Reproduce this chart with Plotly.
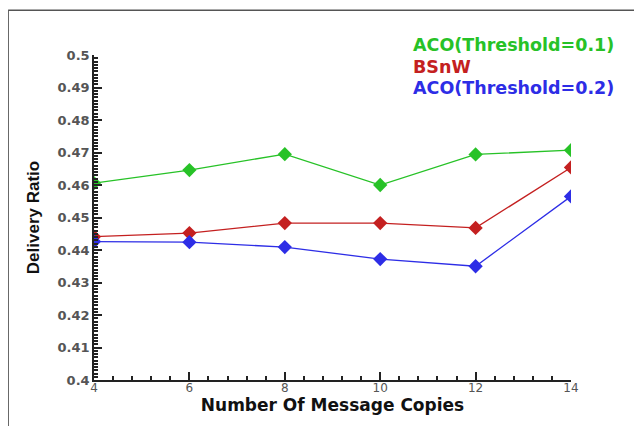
import plotly.graph_objects as go

copies = [4, 6, 8, 10, 12, 14]
aco_01 = [0.4606, 0.4646, 0.4695, 0.4600, 0.4694, 0.4707]
bsnw = [0.4441, 0.4452, 0.4483, 0.4483, 0.4468, 0.4654]
aco_02 = [0.4426, 0.4424, 0.4409, 0.4372, 0.4350, 0.4565]

names = ["ACO(Threshold=0.1)", "BSnW", "ACO(Threshold=0.2)"]
colors = ["#27c227", "#c42020", "#2d2de6"]
series = [aco_01, bsnw, aco_02]

FONT = "DejaVu Sans"

fig = go.Figure()

for name, vals, col in zip(names, series, colors):
    fig.add_trace(go.Scatter(
        x=copies, y=vals, name=name,
        mode="lines+markers",
        line=dict(color=col, width=1.3),
        marker=dict(symbol="diamond", size=11, color=col),
        showlegend=False,
    ))

# legend drawn as coloured text, as in the original
for i, (name, col) in enumerate(zip(names, colors)):
    fig.add_annotation(
        x=0.665, y=1.03 - i * 0.066, xref="paper", yref="paper",
        xanchor="left", yanchor="middle", showarrow=False,
        text=name,
        font=dict(family=FONT, size=17.5, color=col, weight="bold"),
    )

# outer frame (only top and left edges are in view)
fig.add_shape(type="line", xref="paper", yref="paper",
              x0=-0.18, x1=1.3, y0=1.138, y1=1.138,
              line=dict(color="#555555", width=1.5))
fig.add_shape(type="line", xref="paper", yref="paper",
              x0=-0.18, x1=-0.18, y0=1.138, y1=-0.3,
              line=dict(color="#555555", width=1.5))

fig.update_xaxes(
    range=[4, 14], tickvals=copies, ticks="inside", ticklen=8, tickwidth=1.5,
    tickcolor="#222", showline=True, linecolor="#222", linewidth=1.5,
    showgrid=False, zeroline=False,
    minor=dict(dtick=0.4, tick0=4, ticks="inside", ticklen=4, tickcolor="#222", showgrid=False),
    tickfont=dict(family=FONT, size=12, color="#555"),
    ticklabelstandoff=-4,
    title=dict(text="Number Of Message Copies", standoff=0,
               font=dict(family=FONT, size=17, color="#111", weight="bold")),
)
fig.update_yaxes(
    range=[0.4, 0.5], dtick=0.01, tick0=0.4, tickformat=".2~f",
    ticks="inside", ticklen=8, tickwidth=1.5, tickcolor="#222",
    showline=True, linecolor="#222", linewidth=1.5,
    showgrid=False, zeroline=False,
    minor=dict(dtick=0.001, ticks="inside", ticklen=4, tickcolor="#222", showgrid=False),
    tickfont=dict(family=FONT, size=13, color="#555", weight="bold"),
    title=dict(text="Delivery Ratio", standoff=14,
               font=dict(family="Liberation Sans", size=17, color="#111", weight="bold")),
)

fig.update_layout(
    width=642, height=426,
    margin=dict(l=86, r=79, t=47, b=54),
    plot_bgcolor="white", paper_bgcolor="white",
)

fig.write_html("out.html")
